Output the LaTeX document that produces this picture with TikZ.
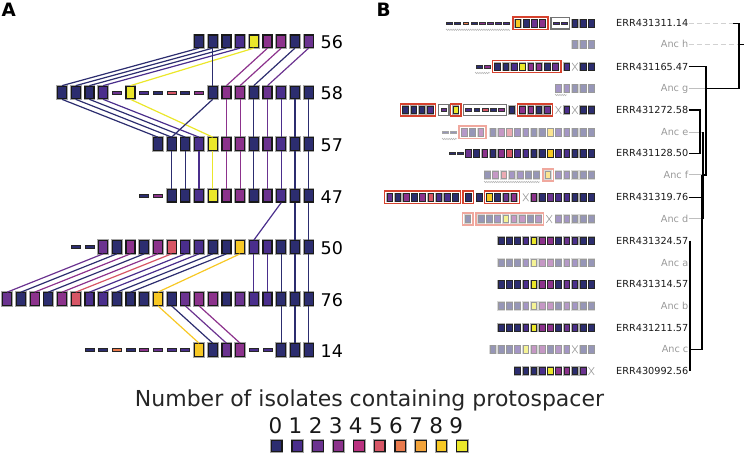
\documentclass[tikz,border=0pt]{standalone}
\usepackage{fontspec}
\setmainfont{DejaVu Sans}
\usetikzlibrary{fit,shapes.misc,decorations.pathmorphing}
\definecolor{p0}{RGB}{44,45,111}
\definecolor{p1}{RGB}{74,46,140}
\definecolor{p2}{RGB}{107,51,144}
\definecolor{p3}{RGB}{140,50,140}
\definecolor{p4}{RGB}{186,50,128}
\definecolor{p5}{RGB}{215,86,102}
\definecolor{p6}{RGB}{233,122,77}
\definecolor{p7}{RGB}{242,163,58}
\definecolor{p8}{RGB}{247,200,36}
\definecolor{p9}{RGB}{235,231,42}
\definecolor{boxred}{RGB}{214,66,46}
\definecolor{boxredf}{RGB}{240,168,158}
\definecolor{boxgray}{RGB}{115,115,115}
\newcommand\rowA[3]{\foreach \cA/\tA/\kA in {#3}{\node[\tA=\kA] (#1c\cA) at ({308.6-13.7*\cA},#2) {};}}
\newcommand\segB[5]{\foreach \tB/\kB [count=\iB] in {#5}{\node[\tB=\kB] (#1-\iB) at ({#3+#4*(\iB-1)},#2) {};}}
\begin{document}
\begin{tikzpicture}[x=1pt,y=-1pt,
  asq/.style={draw=black!90, line width=1.2pt, minimum width=9pt, minimum height=12.5pt, inner sep=0pt, preaction={draw=black!35, line width=2.6pt}},
  as/.style={asq, fill=p#1},
  ad/.style={draw=black!85, line width=0.8pt, minimum width=9pt, minimum height=3pt, inner sep=0pt, fill=p#1},
  bbase/.style={line width=0.8pt, minimum width=5.6pt, minimum height=7.4pt, inner sep=0pt},
  bs/.style={bbase, draw=black!85, fill=p#1, preaction={draw=black!30, line width=1.8pt}},
  fs/.style={bbase, draw=black!40, fill=p#1!50!white, preaction={draw=black!15, line width=1.8pt}},
  bd/.style={draw=black!80, line width=0.6pt, minimum width=5.8pt, minimum height=2.4pt, inner sep=0pt, fill=p#1},
  fd/.style={draw=black!35, line width=0.6pt, minimum width=5.8pt, minimum height=2.4pt, inner sep=0pt, fill=p#1!50!white},
  rbox/.style={draw=boxred, line width=1.4pt, inner sep=2pt, minimum height=11.4pt},
  gbox/.style={draw=boxgray, line width=1.4pt, inner sep=2pt, minimum height=11.4pt},
  rfbox/.style={draw=boxredf, line width=1.4pt, inner sep=2pt, minimum height=11.4pt},
  xmk/.style={cross out, draw=black!35, line width=0.7pt, minimum width=5pt, minimum height=7pt, inner sep=0pt},
  cn/.style={line width=1.2pt},
  wavy/.style={draw=black!30, line width=0.5pt, decorate, decoration={zigzag, amplitude=0.7pt, segment length=2.2pt}},
  alab/.style={anchor=base west, inner sep=0pt, font=\fontsize{17.5}{20}\selectfont},
  lab/.style={anchor=east, inner sep=0pt, text height=7pt, text depth=0pt, font=\fontsize{9.7}{11}\selectfont, text=black!90},
  anc/.style={lab, text=black!40},
  tree/.style={draw=black, line width=1.5pt},
  gdash/.style={draw=black!18, line width=1pt, dash pattern=on 5pt off 3pt},
  gline/.style={draw=black!25, line width=1pt},
  lgsq/.style={draw=black!90, line width=1.2pt, minimum width=10.5pt, minimum height=10.8pt, inner sep=0pt, preaction={draw=black!35, line width=2.6pt}}
]
\useasboundingbox (0,0) rectangle (744,454);

% ---------------- panel labels
\node[anchor=base west, inner sep=0pt, font=\bfseries\fontsize{18.4}{20}\selectfont] (pA) at (1.5,16.7) {A};
\node[anchor=base west, inner sep=0pt, font=\bfseries\fontsize{18.4}{20}\selectfont] (pB) at (376.5,16.7) {B};

% ---------------- panel A rows
\rowA{A56}{41.3}{8/as/0,7/as/0,6/as/0,5/as/1,4/as/9,3/as/3,2/as/3,1/as/0,0/as/2}
\rowA{A58}{92.5}{18/as/0,17/as/0,16/as/0,15/as/1,14/ad/2,13/as/9,12/ad/1,11/ad/0,10/ad/5,9/ad/0,8/ad/3,7/as/0,6/as/3,5/as/3,4/as/0,3/as/2,2/as/1,1/as/0,0/as/0}
\rowA{A57}{144}{11/as/0,10/as/0,9/as/0,8/as/1,7/as/9,6/as/3,5/as/3,4/as/0,3/as/2,2/as/1,1/as/0,0/as/0}
\rowA{A47}{195.8}{12/ad/0,11/ad/3,10/as/0,9/as/0,8/as/1,7/as/9,6/as/3,5/as/3,4/as/0,3/as/2,2/as/1,1/as/0,0/as/0}
\rowA{A50}{247}{17/ad/0,16/ad/0,15/as/2,14/as/0,13/as/3,12/as/0,11/as/3,10/as/5,9/as/1,8/as/1,7/as/0,6/as/0,5/as/8,4/as/1,3/as/1,2/as/0,1/as/0,0/as/0}
\rowA{A76}{299}{22/as/2,21/as/0,20/as/3,19/as/0,18/as/3,17/as/5,16/as/1,15/as/1,14/as/0,13/as/0,12/as/0,11/as/8,10/as/0,9/as/2,8/as/3,7/as/3,6/as/0,5/as/2,4/as/1,3/as/1,2/as/0,1/as/0,0/as/0}
\rowA{A14}{350}{16/ad/0,15/ad/0,14/ad/6,13/ad/0,12/ad/3,11/ad/2,10/ad/1,9/ad/1,8/as/8,7/as/0,6/as/2,5/as/3,4/ad/1,3/ad/1,2/as/0,1/as/0,0/as/0}

\node[alab] (N56) at (320.5,48.8) {56};
\node[alab] (N58) at (320.5,100) {58};
\node[alab] (N57) at (320.5,151.5) {57};
\node[alab] (N47) at (320.5,203.3) {47};
\node[alab] (N50) at (320.5,254.5) {50};
\node[alab] (N76) at (320.5,306.5) {76};
\node[alab] (N14) at (320.5,357.5) {14};

% connectors A
\foreach \ua/\ub/\uk in {8/18/0,7/17/0,6/16/0,5/15/1,4/13/9,7/7/0,3/6/3,2/5/3,1/4/0,0/3/2}
  \draw[cn, draw=p\uk] (A56c\ua.south) -- (A58c\ub.north);
\foreach \ua/\ub/\uk in {18/11/0,17/10/0,16/9/0,15/8/1,13/7/9,7/10/0,6/6/3,5/5/3,4/4/0,3/3/2,2/2/1,1/1/0,0/0/0}
  \draw[cn, draw=p\uk] (A58c\ua.south) -- (A57c\ub.north);
\foreach \ua/\ub/\uk in {10/10/0,9/9/0,8/8/1,7/7/9,6/6/3,5/5/3,4/4/0,3/3/2,2/2/1,1/1/0,0/0/0}
  \draw[cn, draw=p\uk] (A57c\ua.south) -- (A47c\ub.north);
\foreach \ua/\ub/\uk in {2/4/1,1/1/0,0/0/0}
  \draw[cn, draw=p\uk] (A47c\ua.south) -- (A50c\ub.north);
\foreach \ua/\ub/\uk in {15/22/2,14/21/0,13/20/3,12/19/0,11/18/3,10/17/5,9/16/1,8/15/1,7/14/0,6/13/0,5/11/8,4/4/1,3/3/1,2/2/0,1/1/0,0/0/0}
  \draw[cn, draw=p\uk] (A50c\ua.south) -- (A76c\ub.north);
\foreach \ua/\ub/\uk in {11/8/8,10/7/0,9/6/2,8/5/3,2/2/0,1/1/0,0/0/0}
  \draw[cn, draw=p\uk] (A76c\ua.south) -- (A14c\ub.north);

% ---------------- panel B rows
% 1 ERR431311.14
\segB{r1a}{23.3}{449.5}{8.15}{bd/0,bd/0,bd/6,bd/0,bd/3,bd/2,bd/1,bd/1}
\segB{r1b}{23.3}{518}{8.2}{bs/8,bs/0,bs/2,bs/3}
\segB{r1c}{23.3}{556}{8.2}{bd/1,bd/1}
\segB{r1d}{23.3}{574.9}{8.2}{bs/0,bs/0,bs/0}
\node[rbox, fit=(r1b-1)(r1b-4)] (r1B) {};
\node[gbox, fit=(r1c-1)(r1c-2)] (r1C) {};
\draw[wavy] (446,29.8) -- (510,29.8);
% 2 Anc h
\segB{r2a}{44.3}{574.9}{8.2}{fs/0,fs/0,fs/0}
% 3 ERR431165.47
\segB{r3a}{66.7}{479.5}{8}{bd/0,bd/3}
\segB{r3b}{66.7}{497.5}{8.3}{bs/0,bs/0,bs/1,bs/9,bs/3,bs/3,bs/0,bs/2}
\segB{r3c}{66.7}{566.7}{8.2}{bs/1}
\node[xmk] (r3x) at (574.9,66.7) {};
\segB{r3d}{66.7}{583.1}{8.2}{bs/0,bs/0}
\node[rbox, fit=(r3b-1)(r3b-8)] (r3B) {};
\draw[wavy] (475,73) -- (490,73);
% 4 Anc g
\segB{r4a}{88.3}{558.5}{8.2}{fs/1,fs/1,fs/0,fs/0,fs/0}
\draw[wavy] (555,95) -- (567,95);
% 5 ERR431272.58
\segB{r5a}{110}{405.5}{8.2}{bs/0,bs/0,bs/0,bs/1}
\segB{r5b}{110}{443.7}{8.2}{bd/2}
\segB{r5c}{110}{455.7}{8.2}{bs/9}
\segB{r5d}{110}{468.6}{8.2}{bd/1,bd/0,bd/5,bd/0,bd/3}
\segB{r5e}{110}{512}{8.2}{bs/0}
\segB{r5f}{110}{522.5}{8.2}{bs/3,bs/3,bs/0,bs/2}
\node[xmk] (r5x1) at (558.4,110) {};
\segB{r5g}{110}{566.7}{8.2}{bs/1}
\node[xmk] (r5x2) at (574.9,110) {};
\segB{r5h}{110}{583.1}{8.2}{bs/0,bs/0}
\node[rbox, fit=(r5a-1)(r5a-4)] (r5A) {};
\node[gbox, fit=(r5b-1)] (r5B) {};
\node[rbox, fit=(r5c-1)] (r5C) {};
\node[gbox, fit=(r5d-1)(r5d-5)] (r5D) {};
\node[rbox, fit=(r5f-1)(r5f-4)] (r5F) {};
% 6 Anc e
\segB{r6a}{132.3}{445.5}{8}{fd/0,fd/0}
\segB{r6b}{132.3}{464.3}{8.2}{fs/2,fs/0,fs/3}
\segB{r6c}{132.3}{492.9}{8.2}{fs/0,fs/3,fs/5,fs/1,fs/1,fs/0,fs/0,fs/8,fs/1,fs/1,fs/0,fs/0,fs/0}
\node[rfbox, fit=(r6b-1)(r6b-3)] (r6B) {};
\draw[wavy] (442,139) -- (457,139);
% 7 ERR431128.50
\segB{r7a}{153.3}{451.9}{8.2}{bd/0,bd/0}
\segB{r7b}{153.3}{468.3}{8.2}{bs/2,bs/0,bs/3,bs/0,bs/3,bs/5,bs/1,bs/1,bs/0,bs/0,bs/8,bs/1,bs/1,bs/0,bs/0,bs/0}
% 8 Anc f
\segB{r8a}{175}{487.3}{8.2}{fs/0,fs/3,fs/5,fs/1,fs/1,fs/0,fs/0}
\segB{r8b}{175}{548}{8.2}{fs/8}
\segB{r8c}{175}{558.5}{8.2}{fs/1,fs/1,fs/0,fs/0,fs/0}
\node[rfbox, fit=(r8b-1)] (r8B) {};
\draw[wavy] (484,182) -- (540,182);
% 9 ERR431319.76
\segB{r9a}{197.3}{389.7}{8.2}{bs/2,bs/0,bs/3,bs/0,bs/3,bs/5,bs/1,bs/1,bs/0}
\segB{r9b}{197.3}{468.3}{8.2}{bs/0}
\segB{r9c}{197.3}{479.3}{8.2}{bs/0}
\segB{r9d}{197.3}{489.4}{8.2}{bs/8,bs/0,bs/2,bs/3}
\node[xmk] (r9x) at (525.7,197.3) {};
\segB{r9e}{197.3}{533.9}{8.2}{bs/3,bs/0,bs/2,bs/1,bs/1,bs/0,bs/0,bs/0}
\node[rbox, fit=(r9a-1)(r9a-9)] (r9A) {};
\node[rbox, fit=(r9b-1)] (r9B) {};
\node[rbox, fit=(r9d-1)(r9d-4)] (r9D) {};
% 10 Anc d
\segB{r10a}{219}{467.7}{8.2}{fs/0}
\segB{r10b}{219}{481.1}{8.2}{fs/0,fs/0,fs/1,fs/9,fs/3,fs/3,fs/0,fs/2}
\node[xmk] (r10x) at (549.2,219) {};
\segB{r10c}{219}{558.5}{8.2}{fs/1,fs/1,fs/0,fs/0,fs/0}
\node[rfbox, fit=(r10a-1)] (r10A) {};
\node[rfbox, fit=(r10b-1)(r10b-8)] (r10B) {};
% 11-15
\segB{r11a}{240.7}{501.1}{8.2}{bs/0,bs/0,bs/0,bs/1,bs/9,bs/3,bs/3,bs/0,bs/2,bs/1,bs/0,bs/0}
\segB{r12a}{262.7}{501.1}{8.2}{fs/0,fs/0,fs/0,fs/1,fs/9,fs/3,fs/3,fs/0,fs/2,fs/1,fs/0,fs/0}
\segB{r13a}{284.3}{501.1}{8.2}{bs/0,bs/0,bs/0,bs/1,bs/9,bs/3,bs/3,bs/0,bs/2,bs/1,bs/0,bs/0}
\segB{r14a}{306}{501.1}{8.2}{fs/0,fs/0,fs/0,fs/1,fs/9,fs/3,fs/3,fs/0,fs/2,fs/1,fs/0,fs/0}
\segB{r15a}{327.7}{501.1}{8.2}{bs/0,bs/0,bs/0,bs/1,bs/9,bs/3,bs/3,bs/0,bs/2,bs/1,bs/0,bs/0}
% 16 Anc c
\segB{r16a}{349.3}{492.9}{8.2}{fs/0,fs/0,fs/0,fs/1,fs/9,fs/3,fs/3,fs/0,fs/2,fs/1}
\node[xmk] (r16x) at (574.9,349.3) {};
\segB{r16b}{349.3}{583.1}{8.2}{fs/0,fs/0}
% 17 ERR430992.56
\segB{r17a}{371}{517.5}{8.2}{bs/0,bs/0,bs/0,bs/1,bs/9,bs/3,bs/3,bs/0,bs/2}
\node[xmk] (r17x) at (591.3,371) {};

% labels B
\node[lab] (L1) at (688.5,23.3) {ERR431311.14};
\node[anc] (L2) at (688.5,44.3) {Anc h};
\node[lab] (L3) at (688.5,66.7) {ERR431165.47};
\node[anc] (L4) at (688.5,88.3) {Anc g};
\node[lab] (L5) at (688.5,110) {ERR431272.58};
\node[anc] (L6) at (688.5,132.3) {Anc e};
\node[lab] (L7) at (688.5,153.3) {ERR431128.50};
\node[anc] (L8) at (688.5,175) {Anc f};
\node[lab] (L9) at (688.5,197.3) {ERR431319.76};
\node[anc] (L10) at (688.5,219) {Anc d};
\node[lab] (L11) at (688.5,240.7) {ERR431324.57};
\node[anc] (L12) at (688.5,262.7) {Anc a};
\node[lab] (L13) at (688.5,284.3) {ERR431314.57};
\node[anc] (L14) at (688.5,306) {Anc b};
\node[lab] (L15) at (688.5,327.7) {ERR431211.57};
\node[anc] (L16) at (688.5,349.3) {Anc c};
\node[lab] (L17) at (688.5,371) {ERR430992.56};

% tree
\coordinate (T1) at (733,23.3);
\coordinate (Tr) at (739,23.3);
\coordinate (Th) at (739,44.3);
\coordinate (Tg) at (739,88.3);
\coordinate (Tg2) at (706,88.3);
\coordinate (T3) at (706,66.7);
\coordinate (Tf) at (706,175);
\coordinate (Tf2) at (702,175);
\coordinate (T5) at (700,110);
\coordinate (T7) at (700,153.3);
\coordinate (Te) at (703,132.3);
\coordinate (Td) at (703,219);
\coordinate (T9) at (703,197.3);
\coordinate (Tc) at (702,349.3);
\coordinate (Tc2) at (690,349.3);
\coordinate (T11) at (690,240.7);
\coordinate (T17) at (690,371);
\coordinate (Troot) at (744,44.3);
\draw[gdash] (L1.east) -- (T1);
\draw[gdash] (L2.east) -- (Th);
\draw[gline] (L4.east) -- (Tg2);
\draw[gline] (L8.east) -- (Tf2);
\draw[gline] (L6.east) -- (Te);
\draw[gline] (L10.east) -- (Td);
\draw[gline] (L16.east) -- (Tc2);
\draw[tree] (T1) -- (Tr) -- (Tg) -- (Tg2);
\draw[tree] (Th) -- (Troot);
\draw[tree] (L3.east) -- (T3) -- (Tf) -- (Tf2);
\draw[tree] (L5.east) -- (T5) -- (T7) -- (L7.east);
\draw[tree] (Te) -- (Td);
\draw[tree] (L9.east) -- (T9);
\draw[tree] (Tf2) -- (Tc) -- (Tc2);
\draw[tree] (T11) -- (T17);

% ---------------- legend
\node[anchor=base, inner sep=0pt, font=\fontsize{22}{26}\selectfont, text=black!85] (lgt) at (369.5,406) {Number of isolates containing protospacer};
\foreach \ui in {0,...,9}{
  \node[anchor=base, inner sep=0pt, font=\fontsize{21.5}{24}\selectfont, text=black!90] (lgd\ui) at ({275.4+20.1*\ui},433) {\ui};
  \node[lgsq, fill=p\ui] (lgs\ui) at ({276.7+20.6*\ui},446) {};
}
\end{tikzpicture}
\end{document}
